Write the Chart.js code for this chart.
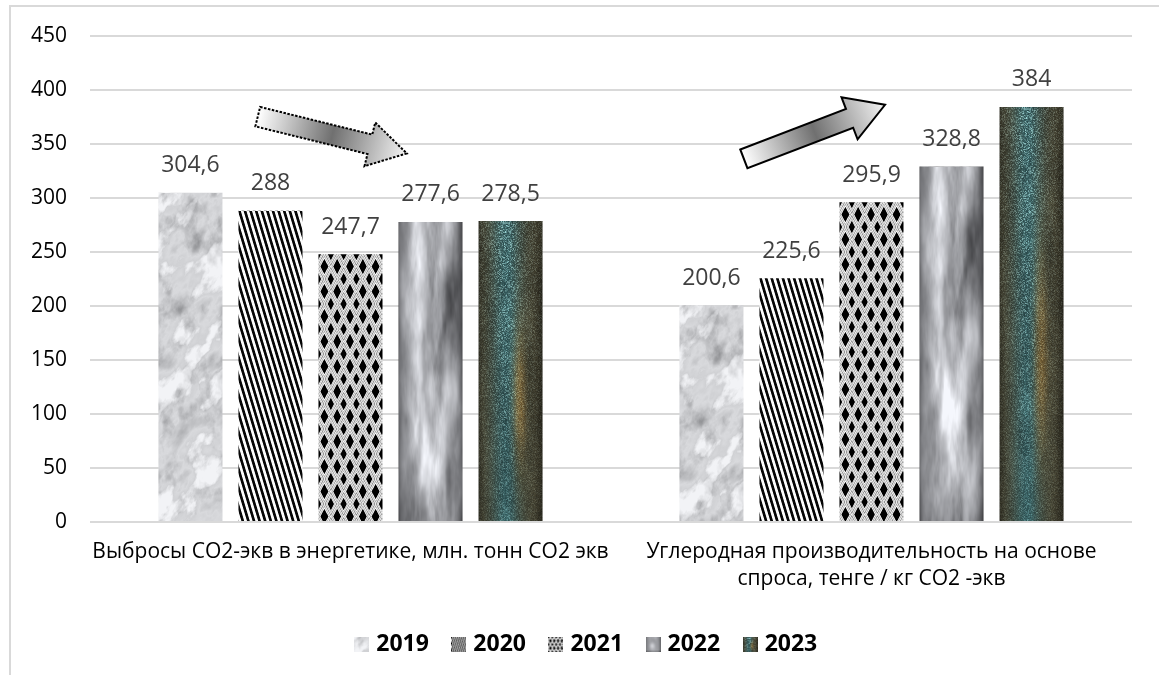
<!DOCTYPE html>
<html lang="ru">
<head>
<meta charset="utf-8">
<title>Выбросы и углеродная производительность, 2019–2023</title>
<script src="https://cdn.jsdelivr.net/npm/chart.js@4.4.1/dist/chart.umd.min.js"></script>
<style>
  html, body { margin: 0; padding: 0; background: #ffffff; }
  #wrap { position: relative; width: 1159px; height: 675px; }
  canvas { display: block; }
</style>
</head>
<body>
<div id="wrap"><canvas id="chart" width="1159" height="675"></canvas></div>
<script>
// ---- data ----
const categories = [
  'Выбросы СО2-экв в энергетике, млн. тонн СО2 экв',
  ['Углеродная производительность на основе', 'спроса, тенге / кг СО2 -экв']
];
const years = ['2019', '2020', '2021', '2022', '2023'];
const values2019 = [304.6, 200.6];
const values2020 = [288, 225.6];
const values2021 = [247.7, 295.9];
const values2022 = [277.6, 328.8];
const values2023 = [278.5, 384];
const yMin = 0, yMax = 450, yStep = 50;

// ---- fill textures for each year ----
const textureKinds = ['marble', 'stripes', 'lattice', 'sky', 'grain'];

function hash2(ix, iy, seed) {
  let h = Math.imul(ix | 0, 374761393) ^ Math.imul(iy | 0, 668265263) ^ Math.imul(seed | 0, 1442695041);
  h = Math.imul(h ^ (h >>> 13), 1274126177);
  h ^= h >>> 16;
  return (h >>> 0) / 4294967296;
}
function vnoise(x, y, seed) {
  const ix = Math.floor(x), iy = Math.floor(y);
  const fx = x - ix, fy = y - iy;
  const sx = fx * fx * (3 - 2 * fx), sy = fy * fy * (3 - 2 * fy);
  const a = hash2(ix, iy, seed), b = hash2(ix + 1, iy, seed);
  const c = hash2(ix, iy + 1, seed), d = hash2(ix + 1, iy + 1, seed);
  return a + (b - a) * sx + (c - a) * sy + (a - b - c + d) * sx * sy;
}
function fbm(x, y, seed, oct) {
  let s = 0, amp = 0.5, f = 1, norm = 0;
  for (let i = 0; i < oct; i++) {
    s += amp * vnoise(x * f, y * f, seed + i * 17);
    norm += amp; amp *= 0.5; f *= 2;
  }
  return s / norm;
}
const clamp = (v, a, b) => Math.max(a, Math.min(b, v));

const painters = {
  marble(x, y) {
    const n = fbm(x * 0.05 + y * 0.02, y * 0.035, 11, 5);
    const m = fbm(x * 0.09, y * 0.06, 29, 4);
    const vein = Math.max(0, 1 - Math.abs(n - 0.5) * 10);
    const dark = clamp((0.56 - n) * 2.2, 0, 1) * 0.6 + clamp((0.5 - m) * 2, 0, 1) * 0.5;
    const g = clamp(243 - dark * 120 - vein * 25, 145, 248);
    return [g - 1, g, g + 3];
  },
  stripes(x, y) {
    const p = 5.6;
    const t = (((x - 0.3 * y) % p) + p) % p;
    return t < p * 0.5 ? [6, 6, 6] : [252, 252, 252];
  },
  lattice(x, y) {
    const W = 12.8, H = 25;
    const u = (((x % W) + W) % W) / W - 0.5;
    const v = (((y % H) + H) % H) / H - 0.5;
    const d = 2 * (Math.abs(u) + Math.abs(v));
    if (d < 0.62) return [0, 0, 0];
    if (d < 0.76) return [255, 255, 255];
    if (d < 0.9) return [170, 170, 170];
    if (d < 1.04) return [250, 250, 250];
    if (d < 1.16) return [120, 120, 120];
    if (d < 1.28) return [250, 250, 250];
    if (d < 1.4) return [180, 180, 180];
    if (d < 1.5) return [255, 255, 255];
    return [0, 0, 0];
  },
  sky(x, y, w, h) {
    const u = clamp(x / w, 0, 1), v = clamp(y / h, 0, 1);
    const arch = Math.pow(Math.sin(Math.PI * u), 0.6);
    let b = 0.38 + 0.36 * arch - 0.14 * u;
    const c = fbm(x * 0.06, y * 0.012, 41, 5);
    const c2 = fbm(x * 0.14, y * 0.035, 43, 3);
    b += (c - 0.45) * 1.1 * arch + (c2 - 0.5) * 0.18;
    b += 0.22 * Math.exp(-((u - 0.45) ** 2) / 0.025) * Math.exp(-((v - 0.6) ** 2) / 0.05);
    b += 0.1 * Math.exp(-((u - 0.55) ** 2) / 0.03) * Math.exp(-(v ** 2) / 0.03);
    b -= 0.15 * Math.max(0, v - 0.85) / 0.15;
    b = clamp(b, 0.2, 0.98);
    return [b * 238 + 12, b * 240 + 12, b * 244 + 14];
  },
  grain(x, y, w, h) {
    const u = clamp(x / w, 0, 1), v = clamp(y / h, 0, 1);
    const mid = Math.exp(-((u - 0.42) ** 2) / 0.05);
    const edge = [60, 57, 42], teal = [48, 84, 86];
    let c = edge.map((e, i) => e + (teal[i] - e) * mid);
    const rust = Math.exp(-((u - 0.62) ** 2) / 0.01) * Math.exp(-((v - 0.6) ** 2) / 0.05);
    c[0] += rust * 55; c[1] += rust * 22; c[2] -= rust * 10;
    const shade = 0.8 + 0.45 * fbm(x * 0.08, y * 0.03, 53, 3);
    c = c.map(q => q * shade);
    const s = hash2(Math.floor(x), Math.floor(y), 61);
    const s2 = hash2(Math.floor(x), Math.floor(y), 67);
    const lift = (0.4 + 0.5 * mid) * (1 - 0.55 * v);
    const hi = [100, 118, 116];
    c = c.map((q, i) => q + hi[i] * lift * Math.pow(s, 2.2));
    c = c.map(q => q * (0.85 + 0.3 * s2));
    const dr = clamp((u - 0.85) / 0.15, 0, 1);
    const dl = clamp((0.08 - u) / 0.08, 0, 1);
    return c.map(q => q * (1 - 0.4 * dr - 0.2 * dl));
  }
};

const textureCache = {};
function makeTexture(kind, w, h, scale) {
  const key = kind + '_' + w + '_' + h + '_' + scale;
  if (textureCache[key]) return textureCache[key];
  const cv = document.createElement('canvas');
  cv.width = Math.max(1, w); cv.height = Math.max(1, h);
  const cx = cv.getContext('2d');
  const img = cx.createImageData(cv.width, cv.height);
  const paint = painters[kind];
  const ss = (kind === 'stripes' || kind === 'lattice') ? 3 : 1;
  for (let py = 0; py < cv.height; py++) {
    for (let px = 0; px < cv.width; px++) {
      let r = 0, g = 0, b = 0;
      for (let sy = 0; sy < ss; sy++) {
        for (let sx = 0; sx < ss; sx++) {
          const fx = (px + (sx + 0.5) / ss) / scale, fy = (py + (sy + 0.5) / ss) / scale;
          const col = paint(fx, fy, cv.width / scale, cv.height / scale);
          r += col[0]; g += col[1]; b += col[2];
        }
      }
      const n = ss * ss, o = (py * cv.width + px) * 4;
      img.data[o] = clamp(r / n, 0, 255);
      img.data[o + 1] = clamp(g / n, 0, 255);
      img.data[o + 2] = clamp(b / n, 0, 255);
      img.data[o + 3] = 255;
    }
  }
  cx.putImageData(img, 0, 0);
  textureCache[key] = cv;
  return cv;
}

// small swatches for the legend
const swatchScale = { marble: 1, stripes: 0.35, lattice: 0.3, sky: 1, grain: 1 };
const legendSwatches = textureKinds.map(k => makeTexture(k, 15, 15, swatchScale[k]));

// fills each bar with its year's texture, aligned to the bar's own rectangle
const barTextures = {
  id: 'barTextures',
  beforeDatasetsDraw(chart) {
    const ctx = chart.ctx;
    chart.data.datasets.forEach((ds, di) => {
      const meta = chart.getDatasetMeta(di);
      meta.data.forEach(el => {
        const left = Math.round(el.x - el.width / 2);
        const top = Math.round(Math.min(el.y, el.base));
        const w = Math.round(el.width) + 1;
        const h = Math.round(Math.abs(el.base - el.y)) + 1;
        const tex = makeTexture(textureKinds[di], w, h, 1);
        const pat = ctx.createPattern(tex, 'repeat');
        pat.setTransform(new DOMMatrix([1, 0, 0, 1, left, top]));
        el.options = Object.assign({}, el.options, { backgroundColor: pat });
      });
    });
  }
};

// value labels above bars
const valueLabels = {
  id: 'valueLabels',
  afterDatasetsDraw(chart) {
    const ctx = chart.ctx;
    ctx.save();
    ctx.font = '23px "Open Sans", sans-serif';
    ctx.fillStyle = '#404040';
    ctx.textAlign = 'center';
    ctx.textBaseline = 'middle';
    chart.data.datasets.forEach((ds, di) => {
      const meta = chart.getDatasetMeta(di);
      meta.data.forEach((el, i) => {
        const txt = String(ds.data[i]).replace('.', ',');
        ctx.fillText(txt, el.x, el.y - 27);
      });
    });
    ctx.restore();
  }
};

// trend arrows, placed by category offset and value
const trendArrows = [
  { cat: 0, from: [-0.178, 375], to: [0.108, 341], dash: [2.5, 1.5] },
  { cat: 1, from: [-0.245, 336], to: [0.026, 386], dash: null }
];
const arrowsPlugin = {
  id: 'trendArrows',
  afterDatasetsDraw(chart) {
    const ctx = chart.ctx, xs = chart.scales.x, ys = chart.scales.y;
    const catW = xs.getPixelForValue(1) - xs.getPixelForValue(0);
    trendArrows.forEach(a => {
      const c = xs.getPixelForValue(a.cat);
      const x0 = c + a.from[0] * catW, y0 = ys.getPixelForValue(a.from[1]);
      const x1 = c + a.to[0] * catW, y1 = ys.getPixelForValue(a.to[1]);
      const L = Math.hypot(x1 - x0, y1 - y0), ang = Math.atan2(y1 - y0, x1 - x0);
      const sw = 10, hw = 22.5, hl = 38;
      ctx.save();
      ctx.translate(x0, y0);
      ctx.rotate(ang);
      ctx.beginPath();
      ctx.moveTo(0, -sw);
      ctx.lineTo(L - hl, -sw);
      ctx.lineTo(L - hl, -hw);
      ctx.lineTo(L, 0);
      ctx.lineTo(L - hl, hw);
      ctx.lineTo(L - hl, sw);
      ctx.lineTo(0, sw);
      ctx.closePath();
      const g = ctx.createLinearGradient(0, 0, L, 0);
      g.addColorStop(0, '#ffffff');
      g.addColorStop(0.5, '#707070');
      g.addColorStop(1, '#f4f4f4');
      ctx.fillStyle = g;
      ctx.fill();
      ctx.lineWidth = 2;
      ctx.lineJoin = 'miter';
      ctx.strokeStyle = '#000000';
      if (a.dash) ctx.setLineDash(a.dash);
      ctx.stroke();
      ctx.restore();
    });
  }
};

// light frame around the chart; legend centred on the frame rather than the canvas
const framePlugin = {
  id: 'frame',
  afterLayout(chart) {
    if (chart.legend) {
      chart.legend.left += 44;
    }
  },
  beforeDraw(chart) {
    const ctx = chart.ctx;
    ctx.save();
    ctx.fillStyle = '#ffffff';
    ctx.fillRect(0, 0, chart.width, chart.height);
    ctx.fillStyle = '#d9d9d9';
    ctx.fillRect(9, 5, 2, chart.height - 5);
    ctx.fillRect(9, 5, chart.width - 9, 2);
    ctx.restore();
  }
};

const seriesValues = [values2019, values2020, values2021, values2022, values2023];

new Chart(document.getElementById('chart'), {
  type: 'bar',
  data: {
    labels: categories,
    datasets: years.map((y, i) => ({
      label: y,
      data: seriesValues[i],
      backgroundColor: '#cccccc',
      borderWidth: 0,
      categoryPercentage: 0.768,
      barPercentage: 0.8
    }))
  },
  options: {
    responsive: false,
    devicePixelRatio: 1,
    animation: false,
    events: [],
    layout: { padding: { left: 0, right: 27, top: 34, bottom: 9 } },
    scales: {
      x: {
        grid: { display: false, drawTicks: false },
        border: { display: false },
        ticks: {
          color: '#000000',
          font: { family: '"Open Sans", sans-serif', size: 21, lineHeight: '27px' },
          padding: 17,
          maxRotation: 0,
          minRotation: 0,
          autoSkip: false
        },
        afterFit(s) { s.height = 84; }
      },
      y: {
        min: yMin,
        max: yMax,
        grid: { color: '#d9d9d9', lineWidth: 2, drawTicks: false },
        border: { display: false },
        ticks: {
          stepSize: yStep,
          color: '#000000',
          font: { family: '"Open Sans", sans-serif', size: 21 },
          padding: 23
        },
        afterFit(s) { s.width = 90; }
      }
    },
    plugins: {
      tooltip: { enabled: false },
      legend: {
        position: 'bottom',
        labels: {
          usePointStyle: true,
          pointStyleWidth: 6,
          padding: 27,
          color: '#000000',
          font: { family: '"Open Sans", sans-serif', size: 23, weight: 'bold' },
          generateLabels(chart) {
            const items = Chart.defaults.plugins.legend.labels.generateLabels(chart);
            return items.map((it, i) => Object.assign(it, { pointStyle: legendSwatches[i], lineWidth: 0 }));
          }
        }
      }
    }
  },
  plugins: [framePlugin, barTextures, valueLabels, arrowsPlugin]
});
</script>
</body>
</html>
